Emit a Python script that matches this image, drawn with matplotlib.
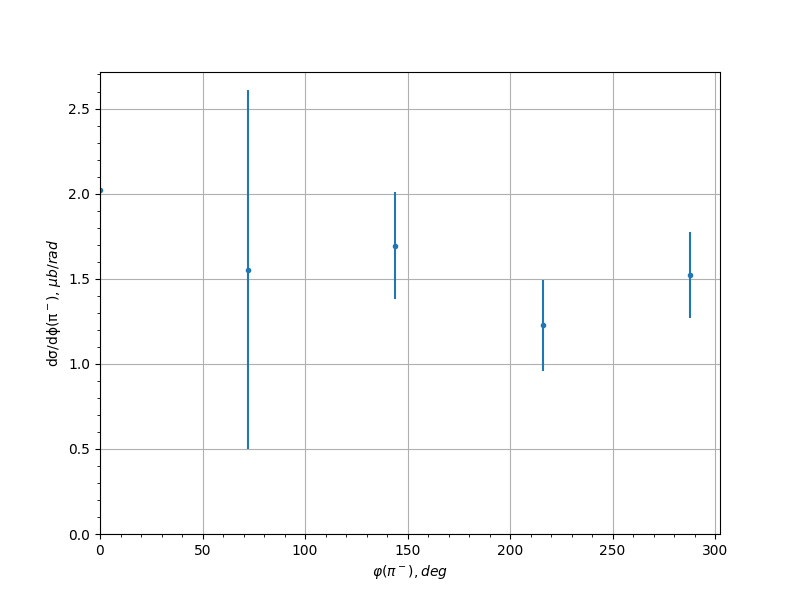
import numpy as np
import matplotlib
matplotlib.use('Agg')
import matplotlib.pyplot as plt
from matplotlib.ticker import AutoMinorLocator

phi = [0, 72, 144, 216, 288]
xsec = [2.024, 1.553, 1.694, 1.227, 1.522]
xsec_err = [0.0, 1.056, 0.315, 0.267, 0.255]

fig, ax = plt.subplots(figsize=(8, 6), dpi=100)

ax.errorbar(phi, xsec, yerr=xsec_err, fmt='.')
ax.set_xlim(left=0)
ax.set_ylim(bottom=0)
ax.xaxis.set_minor_locator(AutoMinorLocator())
ax.yaxis.set_minor_locator(AutoMinorLocator())
ax.grid(True)

ax.set_xlabel(r'$\varphi(\pi^-), deg$')
ax.set_ylabel(r'dσ/dϕ(π$^-$), $\mu b/rad$')

plt.savefig('out.png')
